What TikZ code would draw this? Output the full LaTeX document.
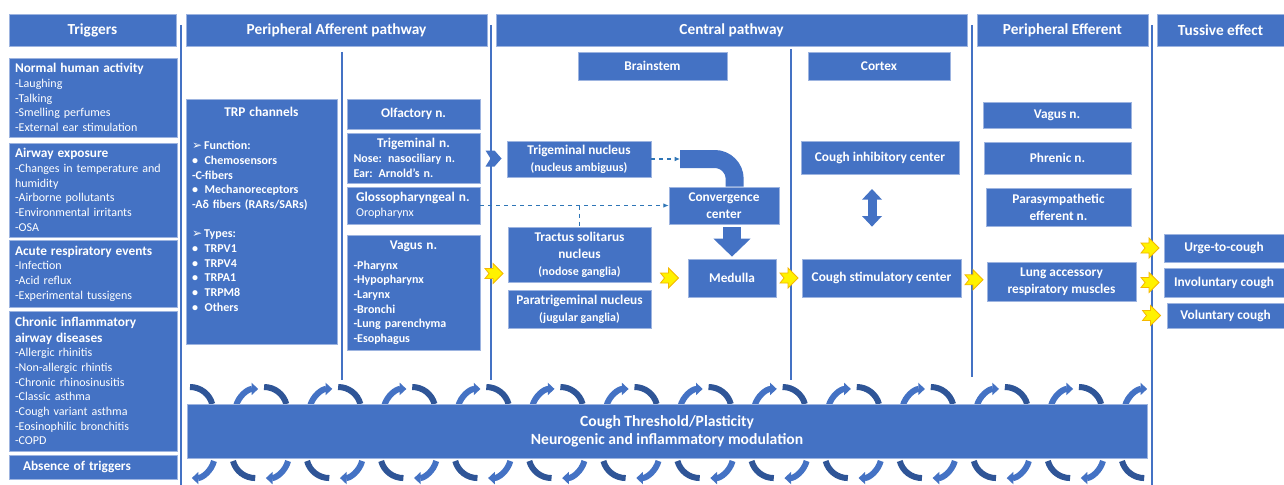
\documentclass[tikz,border=0pt]{standalone}
\usepackage{fontspec}
\setmainfont{Carlito}
\newfontfamily\symfont{DejaVu Sans}
\usetikzlibrary{arrows.meta}
\usetikzlibrary{calc}

\definecolor{boxblue}{HTML}{4472C4}
\definecolor{edgeblue}{HTML}{9DB4E0}
\definecolor{arcdark}{HTML}{2F5597}
\definecolor{dashblue}{HTML}{2E75B6}
\definecolor{staryellow}{HTML}{FFF200}
\definecolor{staredge}{HTML}{F5B800}

\tikzset{
    span/.style n args={4}{at={($(#1,#2)!.5!(#3,#4)$)},
        minimum width={(#3-#1)*0.75pt}, minimum height={(#4-#2)*0.75pt}},
    blk/.style={fill=boxblue, draw=edgeblue, line width=0.5pt, inner sep=0pt, text=white,
        align=center, font=\bfseries\fontsize{10}{12.75}\selectfont},
    hdr/.style={blk, font=\bfseries\fontsize{11.5}{14}\selectfont},
    lst/.style={blk, text width=117pt, align=left, font=\fontsize{9}{11}\selectfont},
    nrv/.style={blk, text width=90pt, align=left, font=\bfseries\fontsize{9}{11}\selectfont},
    sepline/.style={draw=boxblue, line width=1.1pt},
    dsh/.style={draw=dashblue, dashed, line width=0.8pt},
    fatbend/.style={draw=boxblue, line width=13.5pt, rounded corners=15pt},
    fatdown/.style={draw=boxblue, line width=13.5pt, -{Triangle[length=13.5pt,width=27pt]}},
    fatdbl/.style={draw=boxblue, line width=6.75pt, {Triangle[length=8pt,width=14.5pt]}-{Triangle[length=8pt,width=14.5pt]}},
    arcdk/.style={draw=arcdark, line width=4.5pt},
    arclt/.style={draw=boxblue, line width=4.5pt, -{Triangle[length=5pt,width=9pt]}},
    ystar/.pic={\filldraw[fill=staryellow, draw=staredge, line width=0.6pt]
        (-9,-5) -- (-1,-5) -- (-1,-10) -- (9,0) -- (-1,10) -- (-1,5) -- (-9,5) -- (-5,0) -- cycle;},
    bnotch/.pic={\fill[boxblue] (-8,-8) -- (1,-8) -- (8,0) -- (1,8) -- (-8,8) -- (-3,0) -- cycle;}
}

\begin{document}
\begin{tikzpicture}[x=0.75pt,y=-0.75pt]

    % Page size (pixels of the reference)
    \def\pitch{74.08}
    \fill[white] (0,0) rectangle (1284,485);
    \useasboundingbox (0,0) rectangle (1284,485);

    % Column separators
    \foreach \xa/\ya/\yb in {181/25/485, 342/52/380, 491/25/380, 791/49/380, 972/25/377, 1152/25/485}
        \draw[sepline] (\xa,\ya) -- (\xa,\yb);

    % Column headers
    \node[hdr, span={9}{14}{176}{46}] (hTrig) {Triggers};
    \node[hdr, span={186}{14}{487}{46}] (hAff) {Peripheral Afferent pathway};
    \node[hdr, span={496}{14}{967}{46}] (hCen) {Central pathway};
    \node[hdr, span={977}{14}{1148}{46}] (hEff) {Peripheral Efferent};
    \node[hdr, span={1157}{14}{1284}{46}] (hTus) {Tussive effect};

    % Triggers
    \node[lst, span={9}{58}{177}{137}] (tNorm) {\textbf{\fontsize{10}{12}\selectfont Normal human activity}\\-Laughing\\-Talking\\-Smelling perfumes\\-External ear stimulation};
    \node[lst, span={9}{143}{177}{237}] (tAir) {\textbf{\fontsize{10}{12}\selectfont Airway exposure}\\-Changes in temperature and\\humidity\\-Airborne pollutants\\-Environmental irritants\\-OSA};
    \node[lst, span={9}{240}{177}{307}] (tAcu) {\textbf{\fontsize{10}{12}\selectfont Acute respiratory events}\\-Infection\\-Acid reflux\\-Experimental tussigens};
    \node[lst, span={9}{311}{177}{451}] (tChr) {\textbf{\fontsize{10}{12}\selectfont Chronic inflammatory}\\[1pt]\textbf{\fontsize{10}{12}\selectfont airway diseases}\\-Allergic rhinitis\\-Non-allergic rhintis\\-Chronic rhinosinusitis\\-Classic asthma\\-Cough variant asthma\\-Eosinophilic bronchitis\\-COPD};
    \node[lst, span={9}{455}{177}{479}] (tAbs) {\hspace*{6pt}\textbf{\fontsize{10}{12}\selectfont Absence of triggers}};

    % Peripheral afferent: receptors and nerves
    \node[blk, span={186}{99}{337}{344}] (trp) {};
    \node[nrv, text width=104pt, fill=none, draw=none, anchor=north west] (trpTxt) at ([shift={(6,8)}]trp.north west)
        {\makebox[\hsize]{\fontsize{10}{12}\selectfont TRP channels}\\[14pt]
         {\symfont\small ➢}\,Function:\\
         \textbullet\hspace{5pt}Chemosensors\\
         -C-fibers\\
         \textbullet\hspace{5pt}Mechanoreceptors\\
         -Aδ fibers (RARs/SARs)\\[11pt]
         {\symfont\small ➢}\,Types:\\
         \textbullet\hspace{5pt}TRPV1\\ \textbullet\hspace{5pt}TRPV4\\ \textbullet\hspace{5pt}TRPA1\\
         \textbullet\hspace{5pt}TRPM8\\ \textbullet\hspace{5pt}Others};
    \node[blk, span={347}{99}{480}{129}] (olf) {Olfactory n.};
    \node[nrv, span={347}{133}{480}{183}] (trig) {\makebox[\hsize]{\fontsize{10}{12}\selectfont Trigeminal n.}\\Nose: nasociliary n.\\Ear: Arnold’s n.};
    \node[nrv, span={347}{187}{480}{224}] (glos) {\hspace*{2pt}{\fontsize{10}{12}\selectfont Glossopharyngeal n.}\\\hspace*{2pt}\mdseries Oropharynx};
    \node[nrv, span={347}{235}{480}{350}] (vag) {\makebox[\hsize]{\fontsize{10}{12}\selectfont Vagus n.}\\[4pt]-Pharynx\\-Hypopharynx\\-Larynx\\-Bronchi\\-Lung parenchyma\\-Esophagus};

    % Central pathway
    \node[blk, span={578}{52}{727}{80}] (brain) {Brainstem};
    \node[blk, span={808}{52}{950}{80}] (cortex) {Cortex};
    \node[blk, span={507}{141}{651}{177}] (tnuc) {Trigeminal nucleus\\{\fontsize{9}{11}\selectfont (nucleus ambiguus)}};
    \node[blk, span={508}{227}{651}{282}] (tsol) {Tractus solitarus\\nucleus\\{\fontsize{9}{11}\selectfont (nodose ganglia)}};
    \node[blk, span={508}{290}{651}{328}] (ptrig) {Paratrigeminal nucleus\\{\fontsize{9}{11}\selectfont (jugular ganglia)}};
    \node[blk, span={669}{187}{779}{224}] (conv) {Convergence\\center};
    \node[blk, span={688}{259}{776}{297}] (med) {Medulla};
    \node[blk, span={801}{141}{959}{174}] (inhib) {Cough inhibitory center};
    \node[blk, span={802}{259}{961}{297}] (stim) {Cough stimulatory center};

    % Peripheral efferent and tussive effect
    \node[blk, span={983}{102}{1131}{128}] (evag) {Vagus n.};
    \node[blk, span={984}{142}{1131}{174}] (phren) {Phrenic n.};
    \node[blk, span={986}{188}{1131}{226}] (para) {Parasympathetic\\efferent n.};
    \node[blk, span={987}{262}{1136}{301}] (lung) {Lung accessory\\respiratory muscles};
    \node[blk, span={1164}{234}{1284}{262}] (urge) {Urge-to-cough};
    \node[blk, span={1164}{268}{1284}{297}] (invol) {Involuntary cough};
    \node[blk, span={1167}{303}{1284}{328}] (volun) {Voluntary cough};

    % Connectors inside the brainstem
    \coordinate (bendIn) at (680,159);
    \draw[dsh, -{Latex[length=4pt,width=3.5pt]}] (tnuc.east) -- (bendIn);
    \draw[fatbend] (bendIn) -| ([xshift=8pt]conv.north);
    \draw[dsh, -{Latex[length=4pt,width=3.5pt]}] (glos.east) -- (conv.west);
    \draw[dsh] (glos.east -| tsol.north) -- (tsol.north);
    \draw[fatdown, shorten <=2pt, shorten >=1.5pt] (conv.south -| med.north) -- (med.north);
    \draw[fatdbl, shorten <=11pt, shorten >=24pt] ([xshift=-6pt]inhib.south) -- ([xshift=-6pt]inhib.south |- stim.north);

    % Arrow marks between the columns
    \pic at ($(trig.east)!.5!(tnuc.west)$) {bnotch};
    \pic at ($(vag.east)!.5!(tsol.west)$) {ystar};
    \pic at ($(tsol.east |- med.west)!.5!(med.west)$) {ystar};
    \pic at ($(med.east)!.5!(stim.west)$) {ystar};
    \pic at ($(stim.east)!.5!(lung.west)$) {ystar};
    \pic at ($(lung.east |- urge.west)!.5!(urge.west)$) {ystar};
    \pic at ($(lung.east |- invol.west)!.5!(invol.west)$) {ystar};
    \pic at ($(lung.east |- volun.west)!.5!(volun.west)$) {ystar};

    % Circling arrows round the threshold bar
    \foreach \i in {0,...,12}{
        \pgfmathsetmacro\dx{\pitch*\i}
        \draw[arcdk] (190+\dx,387) arc[start angle=-90, end angle=-15, radius=23];
        \draw[arclt] (236+\dx,406) arc[start angle=-165, end angle=-90, radius=23];
        \draw[arclt] (214+\dx,461) arc[start angle=15, end angle=90, radius=23];
        \draw[arcdk] (233+\dx,461) arc[start angle=165, end angle=90, radius=23];
    }
    \node[blk, span={187}{404}{1147}{458}, font=\bfseries\fontsize{11.7}{13.5}\selectfont] (base)
        {Cough Threshold/Plasticity\\Neurogenic and inflammatory modulation};

\end{tikzpicture}
\end{document}
